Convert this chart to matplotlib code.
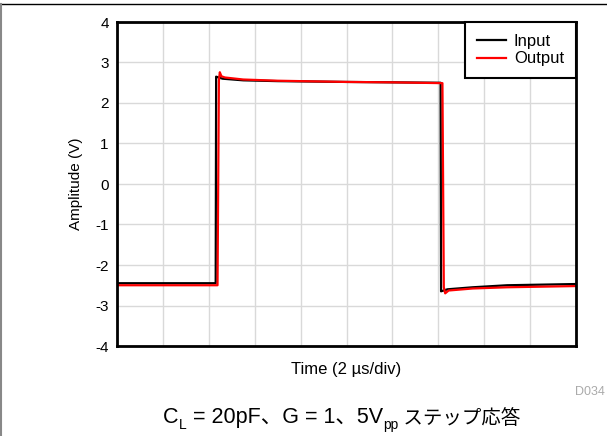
import matplotlib
matplotlib.use('Agg')
import matplotlib.pyplot as plt
from matplotlib.lines import Line2D

# step response data (time in us, 2 us/div, 10 divs)
t_input = [0, 4.30, 4.32, 4.6, 5.5, 7.0, 10.0, 12.0, 14.10, 14.12, 14.4, 15.5, 17.0, 20.0]
v_input = [-2.45, -2.45, 2.65, 2.60, 2.56, 2.54, 2.52, 2.51, 2.50, -2.65, -2.60, -2.55, -2.50, -2.47]
t_output = [0, 4.38, 4.44, 4.48, 4.55, 4.7, 5.5, 7.0, 10.0, 12.0, 14.18, 14.24, 14.30, 14.45, 15.5, 17.0, 20.0]
v_output = [-2.50, -2.50, 2.55, 2.76, 2.66, 2.63, 2.58, 2.55, 2.52, 2.51, 2.49, -2.55, -2.70, -2.63, -2.58, -2.55, -2.52]

y_ticks = [-4, -3, -2, -1, 0, 1, 2, 3, 4]
x_grid = [0, 2, 4, 6, 8, 10, 12, 14, 16, 18, 20]

cjk = ['Liberation Sans', 'Noto Sans CJK JP']
plt.rcParams['font.family'] = cjk
plt.rcParams['axes.unicode_minus'] = False

W, H = 607, 436
fig = plt.figure(figsize=(W/100, H/100), dpi=100)
ax = fig.add_axes([117/W, 1-346/H, (576-117)/W, (346-22)/H])

ax.plot(t_input, v_input, color='black', lw=1.6, label='Input')
ax.plot(t_output, v_output, color='red', lw=1.6, label='Output')

ax.set_xlim(0, 20)
ax.set_ylim(-4, 4)
ax.set_xticks(x_grid)
ax.set_yticks(y_ticks)
ax.tick_params(length=0, labelsize=11, pad=6, labelbottom=False)
ax.grid(True, color='#d9d9d9', lw=1)
ax.set_axisbelow(True)
for s in ax.spines.values():
    s.set_linewidth(2)

ax.set_xlabel('Time (2 µs/div)', fontsize=12)
ax.xaxis.set_label_coords(0.5, -(362-346)/324)
ax.set_ylabel('Amplitude (V)', fontsize=11)
ax.yaxis.set_label_coords((83-117)/459, 0.5)

leg = ax.legend(loc='upper right', fontsize=12, fancybox=False, borderaxespad=0,
                handlelength=1.7, labelspacing=0.15, borderpad=0.72, handletextpad=0.5)
leg.get_frame().set_edgecolor('black')
leg.get_frame().set_linewidth(1.5)
leg.get_frame().set_alpha(1)

fig.text(590/W, 1-392/H, 'D034', fontsize=9, color='#aaaaaa', ha='center', va='center')

# page borders
fig.add_artist(Line2D([0, 1], [1-4/H, 1-4/H], color='black', lw=1))
fig.add_artist(Line2D([0.8/W, 0.8/W], [0, 1-4/H], color='#888888', lw=1.5))

# caption built from pieces for subscripts, then centred
base = 1-423/H
t1 = fig.text(157/W, base, 'C', fontsize=15.5, va='baseline', ha='left')
t2 = plt.annotate('L', xy=(1, 0), xycoords=t1, xytext=(0, -3), textcoords='offset points',
                  fontsize=10, va='bottom', ha='left', annotation_clip=False)
t3 = plt.annotate(' = 20pF、G = 1、5V', xy=(1, 0), xycoords=t1, xytext=(6, 0),
                  textcoords='offset points', fontsize=15.5, va='bottom', ha='left')
t4 = plt.annotate('pp', xy=(1, 0), xycoords=t3, xytext=(0, -3), textcoords='offset points',
                  fontsize=10, va='bottom', ha='left')
t5 = plt.annotate(' ステップ応答', xy=(1, 0), xycoords=t4, xytext=(0, 3),
                  textcoords='offset points', fontsize=14, va='bottom', ha='left')

fig.canvas.draw()
r = fig.canvas.get_renderer()
x0 = t1.get_window_extent(r).x0
x1 = t5.get_window_extent(r).x1
shift = 342 - (x0 + x1) / 2
t1.set_x(t1.get_position()[0] + shift / W)

fig.savefig('out.png', dpi=100)
